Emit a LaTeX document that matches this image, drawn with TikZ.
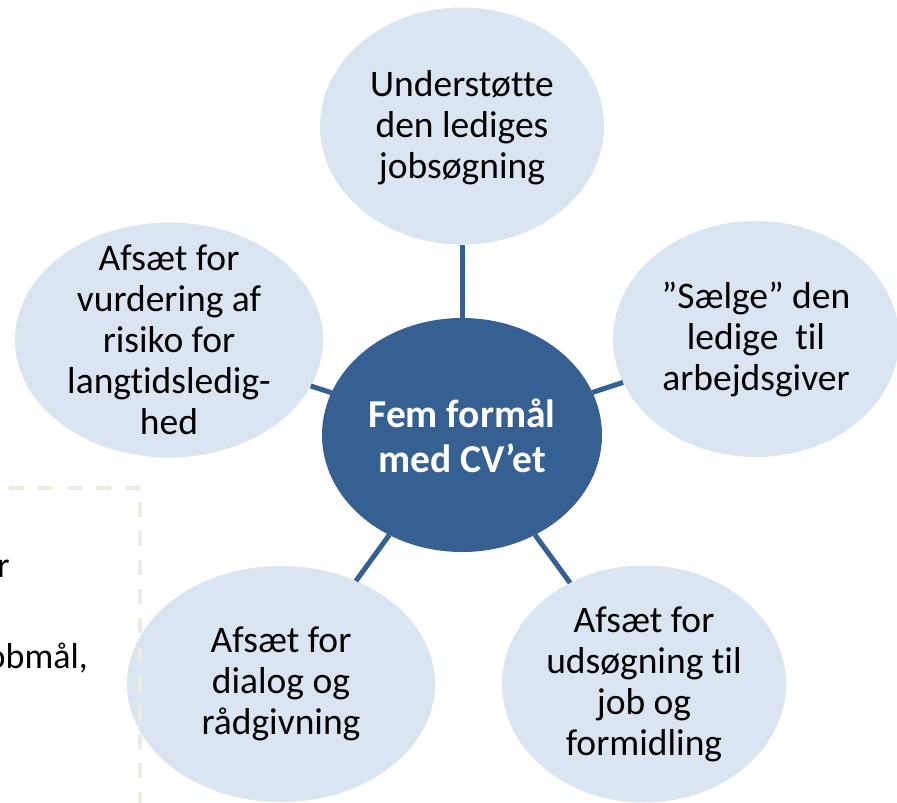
\documentclass[tikz,border=0pt]{standalone}
\usepackage{fontspec}
\setmainfont{Carlito}[Ligatures={NoCommon}]
\usetikzlibrary{shapes.geometric}
\definecolor{lightbub}{HTML}{DBE5F1}
\definecolor{darkbub}{HTML}{376092}
\definecolor{dashcol}{HTML}{EEECE1}
\begin{document}
\begin{tikzpicture}[x=1pt,y=-1pt,
  bub/.style={ellipse, fill=lightbub, inner sep=0pt, outer sep=0pt},
  hub/.style={ellipse, fill=darkbub, inner sep=0pt, outer sep=0pt},
  txt/.style={align=center, font=\fontsize{37.5}{41}\selectfont, text=black, inner sep=0pt},
  hubtxt/.style={align=center, font=\fontsize{39.5}{45}\selectfont\bfseries, text=white, inner sep=0pt},
  link/.style={draw=darkbub, line width=5pt},
  sidetxt/.style={font=\fontsize{36}{40}\selectfont, anchor=base east, inner sep=0pt, text=black},
  dashbox/.style={draw=dashcol, line width=4pt, dash pattern=on 15pt off 14pt}]
\useasboundingbox (0,0) rectangle (897,803);
\clip (0,0) rectangle (897,803);
% bubbles
\node[hub, minimum width=280pt, minimum height=234pt] (hub) at (462,435) {};
\node[bub, minimum width=284pt, minimum height=237pt] (top) at (462,126) {};
\node[bub, minimum width=308pt, minimum height=235pt] (left) at (169,340) {};
\node[bub, minimum width=286pt, minimum height=236pt] (right) at (756,339) {};
\node[bub, minimum width=308pt, minimum height=236pt] (bl) at (281,684) {};
\node[bub, minimum width=284pt, minimum height=237pt] (br) at (644,684) {};
% connectors
\draw[link] (hub) -- (top);
\draw[link] (hub) -- (left);
\draw[link] (hub) -- (right);
\draw[link] (hub) -- (bl);
\draw[link] (hub) -- (br);
% texts
\node[hubtxt] (hubT) at ([yshift=-1pt]hub.center) {Fem formål\\med CV’et};
\node[txt] (topT) at ([yshift=-2pt]top.center) {Understøtte\\den lediges\\jobsøgning};
\node[txt] (leftT) at (left.center) {Afsæt for\\vurdering af\\risiko for\\langtidsledig-\\hed};
\node[txt] (rightT) at (right.center) {”Sælge” den\\ledige\ \ til\\arbejdsgiver};
\node[txt] (blT) at (bl.center) {Afsæt for\\dialog og\\rådgivning};
\node[txt] (brT) at (br.center) {Afsæt for\\udsøgning til\\job og\\formidling};
% partial side text box
\draw[dashbox] (-20,488) -- (140,488) -- (140,820);
\node[sidetxt] (sideA) at (10,577) {r};
\node[sidetxt] (sideB) at (88,668) {obmål,};
\end{tikzpicture}
\end{document}
